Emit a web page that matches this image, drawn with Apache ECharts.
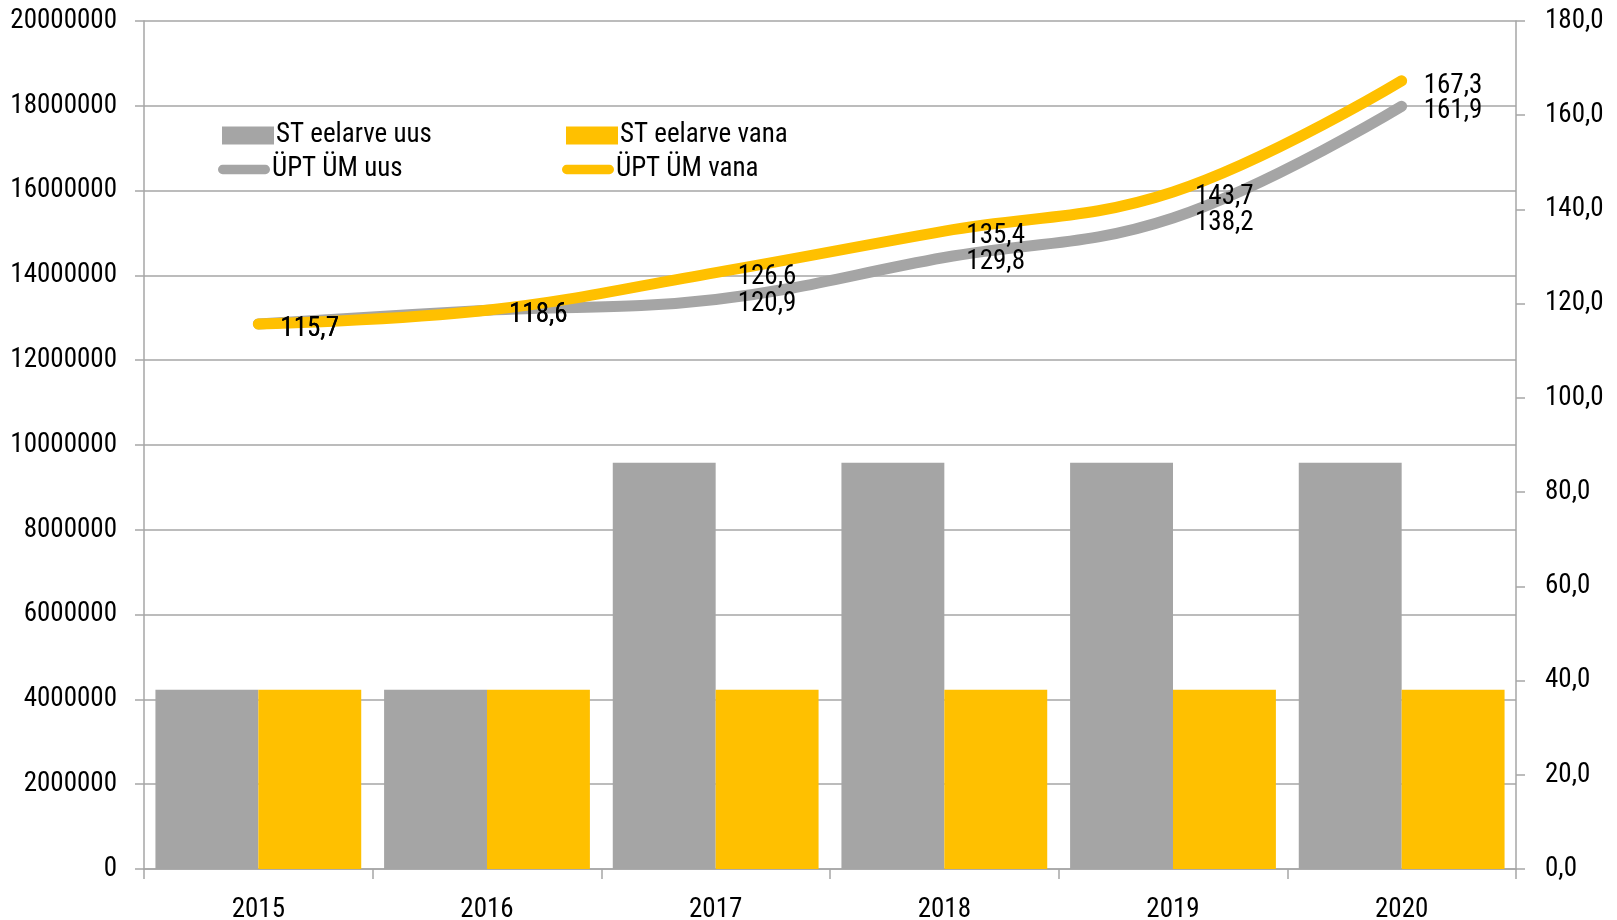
<!DOCTYPE html>
<html>
<head>
<meta charset="utf-8">
<script src="https://cdn.jsdelivr.net/npm/echarts@6/dist/echarts.min.js"></script>
<style>
  html, body { margin: 0; padding: 0; background: #fff; }
  #main { width: 1617px; height: 920px; }
</style>
</head>
<body>
<div id="main"></div>
<script>
// andmed
var years = ["2015", "2016", "2017", "2018", "2019", "2020"];
var stUus = [4230000, 4230000, 9580000, 9580000, 9580000, 9580000];
var stVana = [4230000, 4230000, 4230000, 4230000, 4230000, 4230000];
var uptUus = [115.7, 118.6, 120.9, 129.8, 138.2, 161.9];
var uptVana = [115.7, 118.6, 126.6, 135.4, 143.7, 167.3];

var FONT = "'Roboto Condensed', Roboto, sans-serif";
var FS = 27;
var GRAY = "#A5A5A5";
var YELLOW = "#FFC000";
var AXIS = "#A6A6A6";

var chart = echarts.init(document.getElementById("main"));

var lineIcon = "path://M5,0 H51 A5,5 0 0 1 51,10 H5 A5,5 0 0 1 5,0 Z";

function legendItem(name, left, top, icon, h) {
  return {
    data: [{ name: name, icon: icon }],
    left: left,
    top: top,
    itemWidth: 52,
    itemHeight: h,
    itemGap: 0,
    padding: 0,
    selectedMode: false,
    textStyle: { fontFamily: FONT, fontSize: FS, color: "#000", padding: [0, 0, 0, -3] },
  };
}

function fmt(p) {
  return p.value.toFixed(1).replace(".", ",");
}

var option = {
  animation: false,
  textStyle: { fontFamily: FONT },
  legend: [
    legendItem("ST eelarve uus", 222, 122, "rect", 18),
    legendItem("ST eelarve vana", 566, 122, "rect", 18),
    legendItem("ÜPT ÜM uus", 218, 156, lineIcon, 11),
    legendItem("ÜPT ÜM vana", 562, 156, lineIcon, 11),
  ],
  grid: { left: 144, right: 101, top: 21, bottom: 51, containLabel: false, outerBoundsMode: "none" },
  xAxis: {
    type: "category",
    data: years,
    axisLine: { lineStyle: { color: AXIS, width: 1.5 } },
    axisTick: { show: true, length: 10, lineStyle: { color: AXIS, width: 1.5 } },
    axisLabel: { color: "#000", fontSize: FS, fontFamily: FONT, margin: 28 },
  },
  yAxis: [
    {
      type: "value",
      min: 0,
      max: 20000000,
      interval: 2000000,
      axisLine: { show: true, lineStyle: { color: AXIS, width: 1.5 } },
      axisTick: { show: true, length: 9, lineStyle: { color: AXIS, width: 1.5 } },
      splitLine: { lineStyle: { color: AXIS, width: 1.5 } },
      axisLabel: {
        color: "#000",
        fontSize: FS,
        fontFamily: FONT,
        margin: 27,
        formatter: function (v) { return String(v); },
      },
    },
    {
      type: "value",
      min: 0,
      max: 180,
      interval: 20,
      position: "right",
      axisLine: { show: true, lineStyle: { color: AXIS, width: 1.5 } },
      axisTick: { show: true, length: 9, lineStyle: { color: AXIS, width: 1.5 } },
      splitLine: { show: false },
      axisLabel: {
        color: "#000",
        fontSize: FS,
        fontFamily: FONT,
        margin: 29,
        formatter: function (v) { return v.toFixed(1).replace(".", ","); },
      },
    },
  ],
  series: [
    {
      name: "ST eelarve uus",
      type: "bar",
      data: stUus,
      barGap: "0%",
      barCategoryGap: "10%",
      itemStyle: { color: GRAY },
    },
    {
      name: "ST eelarve vana",
      type: "bar",
      data: stVana,
      itemStyle: { color: YELLOW },
    },
    {
      name: "ÜPT ÜM uus",
      type: "line",
      yAxisIndex: 1,
      data: uptUus,
      smooth: 0.4,
      showSymbol: true,
      symbol: "circle",
      symbolSize: 0,
      lineStyle: { color: GRAY, width: 11, cap: "round", join: "round" },
      itemStyle: { color: GRAY },
      label: {
        show: true,
        position: "right",
        distance: 22,
        offset: [0, 5],
        color: "#000",
        fontSize: FS,
        fontFamily: FONT,
        formatter: fmt,
      },
    },
    {
      name: "ÜPT ÜM vana",
      type: "line",
      yAxisIndex: 1,
      data: uptVana,
      smooth: 0.4,
      showSymbol: true,
      symbol: "circle",
      symbolSize: 0,
      lineStyle: { color: YELLOW, width: 11, cap: "round", join: "round" },
      itemStyle: { color: YELLOW },
      label: {
        show: true,
        position: "right",
        distance: 22,
        offset: [0, 5],
        color: "#000",
        fontSize: FS,
        fontFamily: FONT,
        formatter: fmt,
      },
    },
  ],
};

option && chart.setOption(option);
</script>
</body>
</html>
